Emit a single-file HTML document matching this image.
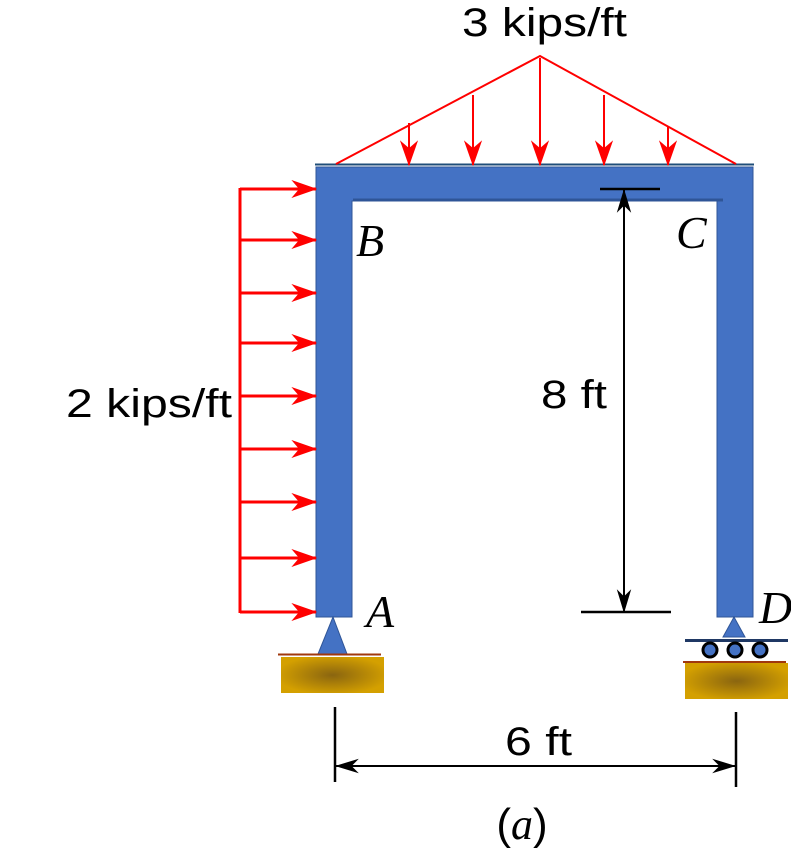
<!DOCTYPE html>
<html><head><style>
body{margin:0;background:#fff;width:791px;height:850px;overflow:hidden}
text{font-family:"Liberation Sans",sans-serif}
.it{font-family:"Liberation Serif",serif;font-style:italic}
</style></head><body>
<svg width="791" height="850" viewBox="0 0 791 850" xmlns="http://www.w3.org/2000/svg">
<defs>
<radialGradient id="g" cx="50%" cy="50%" r="55%">
<stop offset="0" stop-color="#8a6510"/><stop offset="1" stop-color="#d4a000"/></radialGradient>
<marker id="rd" viewBox="0 0 20 20" refX="19" refY="10" markerWidth="26" markerHeight="26" markerUnits="userSpaceOnUse" orient="auto">
<path d="M0,3 L20,10 L0,17 L6,10 Z" fill="#f00"/></marker>
<marker id="bk" viewBox="0 0 20 20" refX="19" refY="10" markerWidth="24" markerHeight="24" markerUnits="userSpaceOnUse" orient="auto">
<path d="M0,4 L20,10 L0,16 L6,10 Z" fill="#000"/></marker>
</defs>
<path d="M316,167 H753 V617 H717 V201 H352 V617 H316 Z" fill="#4472c4" stroke="#2f5597" stroke-width="1"/>
<line x1="315" y1="164.5" x2="754" y2="164.5" stroke="#1f4e79" stroke-width="2"/>
<line x1="353" y1="200" x2="723" y2="200" stroke="#2f5597" stroke-width="3"/>
<g stroke="#f00" stroke-width="2" fill="none">
<polyline points="336,164 540,56 736,164"/>
<line x1="409" y1="123" x2="409" y2="165" marker-end="url(#rd)"/>
<line x1="473" y1="95" x2="473" y2="165" marker-end="url(#rd)"/>
<line x1="540" y1="58" x2="540" y2="165" marker-end="url(#rd)"/>
<line x1="604" y1="95" x2="604" y2="165" marker-end="url(#rd)"/>
<line x1="668" y1="126" x2="668" y2="165" marker-end="url(#rd)"/>
</g>
<g stroke="#f00" stroke-width="3" fill="none">
<line x1="240" y1="188" x2="240" y2="613"/>
<line x1="240" y1="189" x2="316" y2="189" marker-end="url(#rd)"/>
<line x1="240" y1="240" x2="316" y2="240" marker-end="url(#rd)"/>
<line x1="240" y1="293" x2="316" y2="293" marker-end="url(#rd)"/>
<line x1="240" y1="343" x2="316" y2="343" marker-end="url(#rd)"/>
<line x1="240" y1="396" x2="316" y2="396" marker-end="url(#rd)"/>
<line x1="240" y1="449" x2="316" y2="449" marker-end="url(#rd)"/>
<line x1="240" y1="502" x2="316" y2="502" marker-end="url(#rd)"/>
<line x1="240" y1="558" x2="316" y2="558" marker-end="url(#rd)"/>
<line x1="240" y1="612" x2="316" y2="612" marker-end="url(#rd)"/>
</g>
<path d="M333,617 L347,654 L318,654 Z" fill="#4472c4" stroke="#2f5597"/>
<line x1="278" y1="654.5" x2="381" y2="654.5" stroke="#a0380e" stroke-width="2"/>
<rect x="281" y="657" width="103" height="36" fill="url(#g)"/>
<path d="M734,617 L745,637 L723,637 Z" fill="#4472c4" stroke="#2f5597"/>
<line x1="685" y1="640.5" x2="788" y2="640.5" stroke="#1f3864" stroke-width="3"/>
<g fill="#4472c4" stroke="#000" stroke-width="3">
<circle cx="710" cy="650" r="7"/><circle cx="735" cy="650" r="7"/><circle cx="760" cy="650" r="7"/></g>
<line x1="683" y1="662" x2="786" y2="662" stroke="#a0380e" stroke-width="2"/>
<rect x="685" y="663" width="103" height="36" fill="url(#g)"/>
<g stroke="#000" stroke-width="2.5">
<line x1="600" y1="189" x2="660" y2="189"/>
<line x1="581" y1="612" x2="671" y2="612"/>
<line x1="335" y1="707" x2="335" y2="782"/>
<line x1="736" y1="712" x2="736" y2="787"/>
</g>
<g stroke="#000" stroke-width="2">
<line x1="624" y1="400" x2="624" y2="190" marker-end="url(#bk)"/>
<line x1="624" y1="400" x2="624" y2="612" marker-end="url(#bk)"/>
<line x1="535" y1="766" x2="336" y2="766" marker-end="url(#bk)"/>
<line x1="535" y1="766" x2="735" y2="766" marker-end="url(#bk)"/>
</g>
<text x="462" y="36" font-size="40" textLength="165" lengthAdjust="spacingAndGlyphs">3 kips/ft</text>
<text x="66" y="417" font-size="40" textLength="166" lengthAdjust="spacingAndGlyphs">2 kips/ft</text>
<text x="541" y="408" font-size="40" textLength="66" lengthAdjust="spacingAndGlyphs">8 ft</text>
<text x="505" y="755" font-size="40" textLength="67" lengthAdjust="spacingAndGlyphs">6 ft</text>
<text x="356" y="256" font-size="46" class="it">B</text>
<text x="676" y="248" font-size="46" class="it">C</text>
<text x="366" y="627" font-size="46" class="it">A</text>
<text x="759" y="623" font-size="46" class="it">D</text>
<text x="522" y="839" font-size="44" text-anchor="middle" font-family="Liberation Serif,serif">(<tspan class="it">a</tspan>)</text>
</svg>
</body></html>
